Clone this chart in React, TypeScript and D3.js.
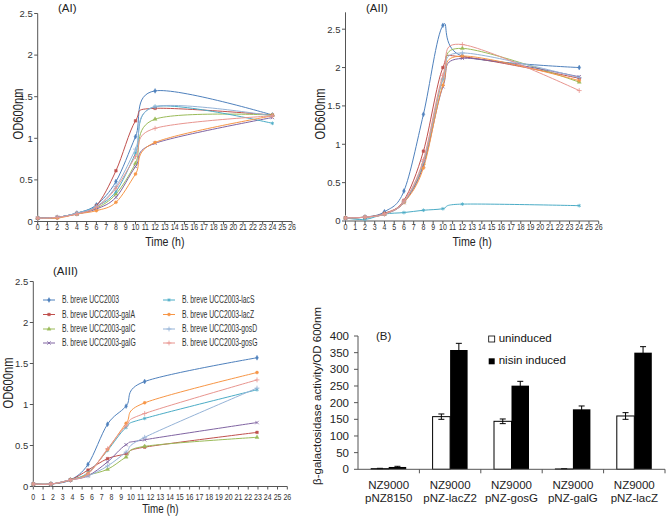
import React from 'react';
import * as d3 from 'd3';

// strains, shared by the three growth panels
const strains = [
  'B. breve UCC2003', 'B. breve UCC2003-galA', 'B. breve UCC2003-galC', 'B. breve UCC2003-galG',
  'B. breve UCC2003-lacS', 'B. breve UCC2003-lacZ', 'B. breve UCC2003-gosD', 'B. breve UCC2003-gosG',
];
const strainColors = ['#4F81BD', '#C0504D', '#9BBB59', '#8064A2', '#4BACC6', '#F79646', '#95B3D7', '#E8958F'];
const strainSymbols = [
  d3.symbolDiamond, d3.symbolSquare, d3.symbolTriangle, d3.symbolTimes,
  d3.symbolAsterisk, d3.symbolCircle, d3.symbolPlus, d3.symbolPlus,
];

// (AI) OD600 per strain, same order as strains
const hoursAI = [0, 2, 4, 6, 8, 10, 12, 24];
const odAI = [
  [0.04, 0.05, 0.1, 0.2, 0.48, 1.02, 1.57, 1.28],
  [0.04, 0.05, 0.1, 0.19, 0.61, 1.21, 1.36, 1.28],
  [0.04, 0.05, 0.09, 0.16, 0.33, 0.7, 1.23, 1.28],
  [0.04, 0.05, 0.09, 0.15, 0.29, 0.66, 0.94, 1.25],
  [0.04, 0.05, 0.1, 0.18, 0.36, 0.82, 1.38, 1.18],
  [0.04, 0.04, 0.09, 0.13, 0.23, 0.57, 0.95, 1.27],
  [0.04, 0.05, 0.1, 0.18, 0.42, 0.87, 1.38, 1.27],
  [0.04, 0.05, 0.09, 0.17, 0.4, 0.78, 1.12, 1.27],
];

// (AII)
const hoursAII = [0, 2, 4, 6, 8, 10, 12, 24];
const odAII = [
  [0.04, 0.05, 0.12, 0.39, 1.39, 2.55, 2.15, 2.0],
  [0.04, 0.05, 0.1, 0.27, 0.91, 2.0, 2.14, 1.86],
  [0.04, 0.05, 0.09, 0.25, 0.75, 1.85, 2.25, 1.81],
  [0.04, 0.05, 0.09, 0.24, 0.72, 1.75, 2.12, 1.88],
  [0.04, 0.02, 0.09, 0.11, 0.14, 0.16, 0.22, 0.2],
  [0.04, 0.05, 0.09, 0.24, 0.69, 1.77, 2.15, 1.83],
  [0.04, 0.05, 0.09, 0.25, 0.78, 1.85, 2.19, 1.87],
  [0.04, 0.05, 0.09, 0.26, 0.8, 1.9, 2.3, 1.7],
];

// (AIII)
const hoursAIII = [0, 1.8, 3.8, 5.6, 7.6, 9.5, 11.4, 22.9];
const odAIII = [
  [0.03, 0.03, 0.08, 0.27, 0.76, 0.98, 1.28, 1.57],
  [0.03, 0.03, 0.08, 0.2, 0.34, 0.4, 0.48, 0.66],
  [0.03, 0.03, 0.08, 0.14, 0.21, 0.36, 0.49, 0.6],
  [0.03, 0.03, 0.08, 0.13, 0.3, 0.51, 0.57, 0.78],
  [0.03, 0.03, 0.08, 0.17, 0.44, 0.72, 0.83, 1.18],
  [0.03, 0.03, 0.08, 0.16, 0.45, 0.77, 1.02, 1.39],
  [0.03, 0.03, 0.08, 0.13, 0.25, 0.42, 0.6, 1.2],
  [0.03, 0.03, 0.08, 0.15, 0.46, 0.74, 0.89, 1.3],
];

const odTicks = [0, 0.5, 1, 1.5, 2, 2.5];
const hourTicks = d3.range(0, 27);

// (B) beta-galactosidase
const constructs = ['NZ9000\npNZ8150', 'NZ9000\npNZ-lacZ2', 'NZ9000\npNZ-gosG', 'NZ9000\npNZ-galG', 'NZ9000\npNZ-lacZ'];
const uninduced = [2, 158, 144, 1, 160];
const uninducedErr = [1, 8, 7, 0, 10];
const nisinInduced = [7, 358, 251, 180, 350];
const nisinErr = [2, 20, 13, 10, 18];
const activityTicks = [0, 50, 100, 150, 200, 250, 300, 350, 400];

const sans = '"Liberation Sans", Arial, sans-serif';
const axisColor = '#555';

// condensed text: no narrow font installed, so squeeze Liberation Sans horizontally
function NText({ x, y, sx = 0.8, rotate = 0, size, anchor = 'start', fill = '#333', children }) {
  return (
    <text transform={`translate(${x},${y}) rotate(${rotate}) scale(${sx},1)`} textAnchor={anchor}
      fontFamily={sans} fontSize={size} fill={fill}>{children}</text>
  );
}

function Marker({ type, color, x, y }) {
  const filled = type === d3.symbolDiamond || type === d3.symbolSquare || type === d3.symbolTriangle || type === d3.symbolCircle;
  const path = d3.symbol().type(type).size(filled ? 7 : 9)();
  return (
    <path d={path} transform={`translate(${x},${y})`}
      fill={filled ? color : 'none'} stroke={color} strokeWidth={filled ? 0.4 : 0.8} />
  );
}

function GrowthPanel({ hours, values, left, right, bottom, top, axisTop, title, titleX, titleY,
  yLabelX, yLabelY, tickY, timeY, timeSize, children }) {
  const x = d3.scaleLinear().domain([0, 26]).range([left, right]);
  const y = d3.scaleLinear().domain([0, 2.5]).range([bottom, top]);
  const line = d3.line().x((d) => x(d[0])).y((d) => y(d[1])).curve(d3.curveCatmullRom.alpha(0));

  return (
    <g>
      <text x={titleX} y={titleY} fontFamily={sans} fontSize={11.5} fill="#222">{title}</text>
      {/* y axis */}
      <line x1={left} x2={left} y1={bottom} y2={y(axisTop)} stroke={axisColor} />
      {odTicks.map((t) => (
        <g key={t}>
          <line x1={left - 3.5} x2={left} y1={y(t)} y2={y(t)} stroke={axisColor} />
          <text x={left - 5} y={y(t) + 3.3} textAnchor="end" fontFamily={sans} fontSize={9.5} fill="#333">{t}</text>
        </g>
      ))}
      <NText x={yLabelX} y={yLabelY} rotate={-90} sx={0.8} size={14} anchor="middle" fill="#222">OD600nm</NText>
      {/* x axis */}
      <line x1={left} x2={right} y1={bottom} y2={bottom} stroke={axisColor} />
      {hourTicks.map((h) => (
        <g key={h}>
          <line x1={x(h)} x2={x(h)} y1={bottom} y2={bottom + 3} stroke={axisColor} />
          <NText x={x(h)} y={tickY} size={9} sx={0.78} anchor="middle">{h}</NText>
        </g>
      ))}
      <NText x={(left + right) / 2} y={timeY} size={timeSize} sx={0.82} anchor="middle" fill="#222">Time (h)</NText>
      {values.map((vals, i) => {
        const pts = hours.map((h, j) => [h, vals[j]]);
        return (
          <g key={strains[i]}>
            <path d={line(pts)} fill="none" stroke={strainColors[i]} strokeWidth={1} />
            {pts.map((p, j) => (
              <Marker key={j} type={strainSymbols[i]} color={strainColors[i]} x={x(p[0])} y={y(p[1])} />
            ))}
          </g>
        );
      })}
      {children}
    </g>
  );
}

function Legend() {
  const rows = [300, 314.5, 329, 343];
  return (
    <g>
      {strains.map((s, i) => {
        const col = Math.floor(i / 4);
        const lx = col === 0 ? 43 : 163;
        const ly = rows[i % 4];
        return (
          <g key={s}>
            <line x1={lx} x2={lx + 12} y1={ly} y2={ly} stroke={strainColors[i]} />
            <Marker type={strainSymbols[i]} color={strainColors[i]} x={lx + 6} y={ly} />
            <NText x={lx + 19} y={ly + 3.4} size={10} sx={0.68}>{s}</NText>
          </g>
        );
      })}
    </g>
  );
}

function ActivityPanel() {
  const left = 358, right = 665, bottom = 469.3, top = 336;
  const x = d3.scaleBand().domain(constructs).range([left, right]);
  const inner = d3.scaleBand().domain(['u', 'n']).range([x.bandwidth() / 2 - 17.5, x.bandwidth() / 2 + 17.5]);
  const y = d3.scaleLinear().domain([0, 400]).range([bottom, top]);
  const bw = inner.bandwidth();

  const errBar = (cx, v, e, key) => (
    <g key={key} stroke="#000" strokeWidth={1}>
      <line x1={cx} x2={cx} y1={y(v - e)} y2={y(v + e)} />
      <line x1={cx - 3} x2={cx + 3} y1={y(v + e)} y2={y(v + e)} />
      <line x1={cx - 3} x2={cx + 3} y1={y(v - e)} y2={y(v - e)} />
    </g>
  );

  return (
    <g>
      <text x={376} y={340} fontFamily={sans} fontSize={11.5} fill="#222">(B)</text>
      <rect x={488.7} y={336} width={6} height={6} fill="#fff" stroke="#000" strokeWidth={0.8} />
      <text x={498.7} y={342.3} fontFamily={sans} fontSize={11.5} fill="#111">uninduced</text>
      <rect x={488.7} y={358.3} width={6} height={6} fill="#000" />
      <text x={498.7} y={364.3} fontFamily={sans} fontSize={11.5} fill="#111">nisin induced</text>

      {constructs.map((c, i) => {
        const x0 = x(c);
        const xu = x0 + inner('u');
        const xn = x0 + inner('n');
        return (
          <g key={c}>
            <rect x={xu} y={y(uninduced[i])} width={bw} height={bottom - y(uninduced[i])} fill="#fff" stroke="#000" strokeWidth={1} />
            {errBar(xu + bw / 2, uninduced[i], uninducedErr[i], 'u')}
            <rect x={xn} y={y(nisinInduced[i])} width={bw} height={bottom - y(nisinInduced[i])} fill="#000" />
            {errBar(xn + bw / 2, nisinInduced[i], nisinErr[i], 'n')}
          </g>
        );
      })}

      <line x1={left} x2={left} y1={bottom} y2={top} stroke={axisColor} />
      {activityTicks.map((t) => (
        <g key={t}>
          <line x1={left - 4} x2={left} y1={y(t)} y2={y(t)} stroke={axisColor} />
          <text x={left - 9} y={y(t) + 4} textAnchor="end" fontFamily={sans} fontSize={11.5} fill="#222">{t}</text>
        </g>
      ))}
      <line x1={left} x2={right} y1={bottom} y2={bottom} stroke={axisColor} />
      {constructs.map((c, i) => (
        <g key={c}>
          <line x1={x(c) + x.bandwidth()} x2={x(c) + x.bandwidth()} y1={bottom} y2={bottom + 4} stroke={axisColor} />
          {c.split('\n').map((part, k) => (
            <text key={k} x={x(c) + x.bandwidth() / 2} y={489 + k * 12.5} textAnchor="middle"
              fontFamily={sans} fontSize={11.5} fill="#222">{part}</text>
          ))}
        </g>
      ))}
      <text transform={`translate(321,396) rotate(-90)`} textAnchor="middle"
        fontFamily={sans} fontSize={11.5} fill="#222">β-galactosidase activity/OD 600nm</text>
    </g>
  );
}

export default function App() {
  return (
    <svg width={666} height={517} style={{ position: 'absolute', left: 0, top: 0, background: '#fff' }}>
      <rect width={666} height={517} fill="#fff" />
      <GrowthPanel hours={hoursAI} values={odAI} left={37.7} right={292} bottom={221.5} top={13.5} axisTop={2.5}
        title="(AI)" titleX={58} titleY={11.5} yLabelX={22.5} yLabelY={114} tickY={230} timeY={246} timeSize={13} />
      <GrowthPanel hours={hoursAII} values={odAII} left={345.5} right={598.7} bottom={221} top={29.2} axisTop={2.72}
        title="(AII)" titleX={366} titleY={11.5} yLabelX={325} yLabelY={114} tickY={229.5} timeY={246} timeSize={13} />
      <GrowthPanel hours={hoursAIII} values={odAIII} left={33.3} right={287.3} bottom={486.5} top={281.5} axisTop={2.5}
        title="(AIII)" titleX={53} titleY={274.5} yLabelX={13.3} yLabelY={383} tickY={500} timeY={513} timeSize={12}>
        <Legend />
      </GrowthPanel>
      <ActivityPanel />
    </svg>
  );
}
